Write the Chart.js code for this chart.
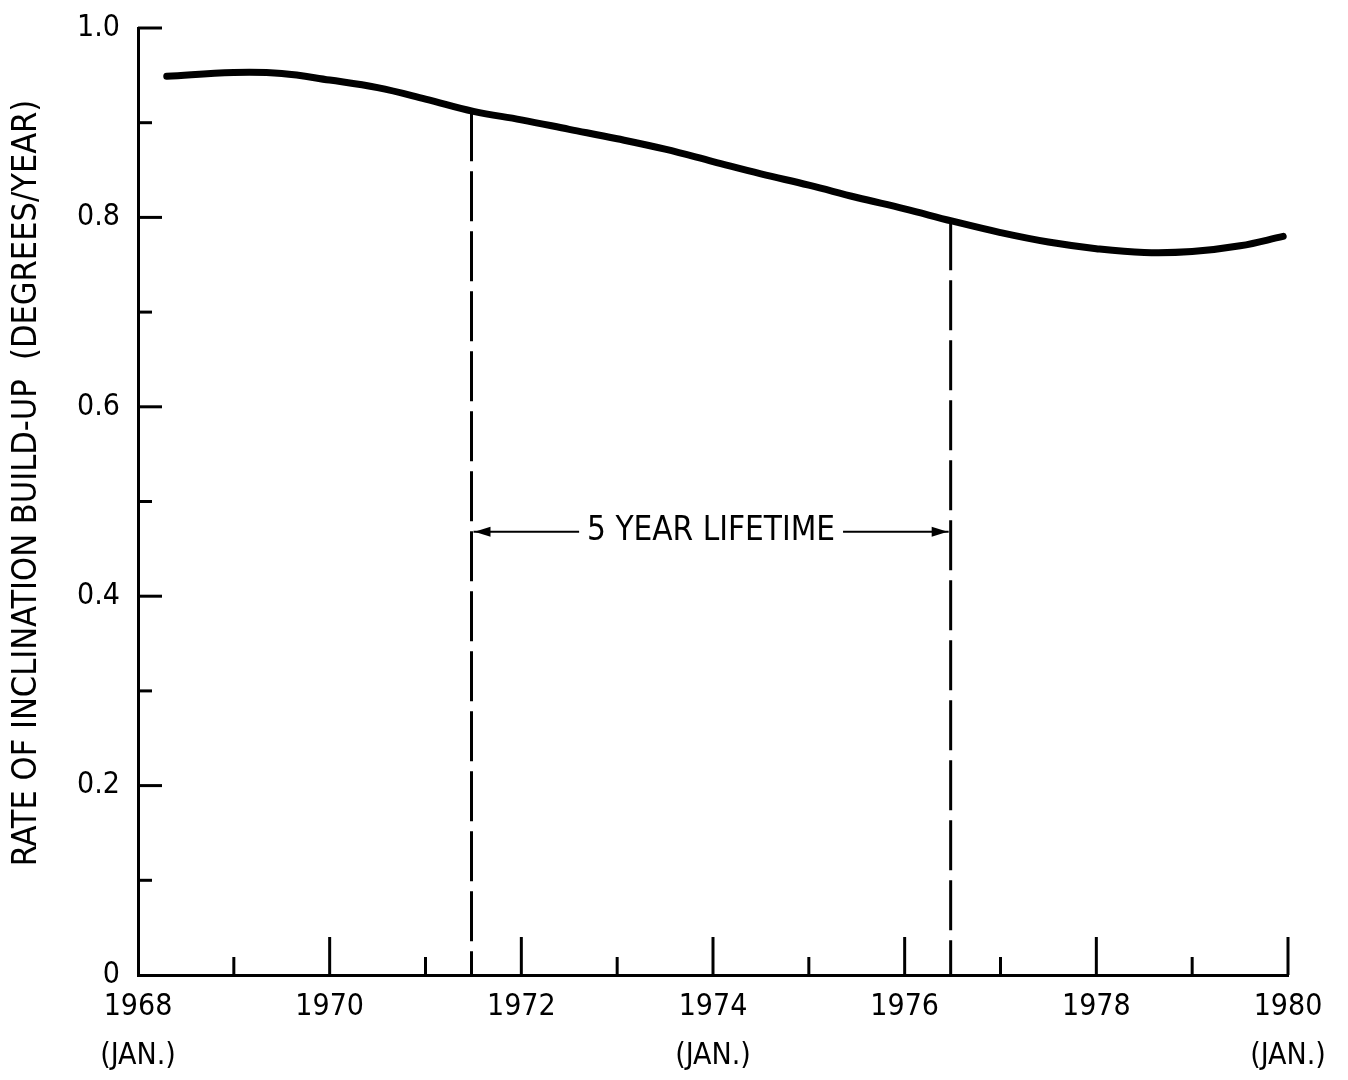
<!DOCTYPE html>
<html>
<head>
<meta charset="utf-8">
<title>Rate of inclination build-up</title>
<script src="https://cdn.jsdelivr.net/npm/chart.js@4/dist/chart.umd.min.js"></script>
<style>
  html, body { margin: 0; padding: 0; background: #fff; }
  #wrap { width: 1348px; height: 1080px; }
</style>
</head>
<body>
<div id="wrap"><canvas id="chart" width="1348" height="1080"></canvas></div>
<script>
// Inclination build-up rate (degrees per year) over the mission period
const years = [1968.3, 1969.0, 1969.5, 1970.0, 1970.5, 1971.0, 1971.5, 1972.0, 1972.5, 1973.0,
               1973.5, 1974.0, 1974.5, 1975.0, 1975.5, 1976.0, 1976.5, 1977.0, 1977.5, 1978.0,
               1978.5, 1979.0, 1979.5, 1979.95];
const rates = [0.949, 0.953, 0.952, 0.945, 0.937, 0.925, 0.912, 0.903, 0.893, 0.883,
               0.872, 0.859, 0.846, 0.834, 0.821, 0.809, 0.796, 0.784, 0.774, 0.767,
               0.763, 0.764, 0.770, 0.780];

// Five-year lifetime window
const lifetimeYears = [1971.48, 1976.48];
const lifetimeRates = [0.912, 0.797];
const lifetimeArrowRate = 0.468;
const lifetimeLabel = '5 YEAR LIFETIME';

// Axis ticks and labels
const xTickYears = [1968, 1969, 1970, 1971, 1972, 1973, 1974, 1975, 1976, 1977, 1978, 1979, 1980];
const xMajorYears = [1968, 1970, 1972, 1974, 1976, 1978, 1980];
const xJanYears = [1968, 1974, 1980];
const yTickValues = [0, 0.1, 0.2, 0.3, 0.4, 0.5, 0.6, 0.7, 0.8, 0.9, 1.0];
const yTickLabels = ['0', '', '0.2', '', '0.4', '', '0.6', '', '0.8', '', '1.0'];
const yAxisTitle = 'RATE OF INCLINATION BUILD-UP  (DEGREES/YEAR)';

const FONT = "'Liberation Sans Narrow', 'DejaVu Sans Condensed', 'Roboto Condensed', sans-serif";
const INK = '#000';

function xLabel(v) {
  if (!xMajorYears.includes(v)) return '';
  return xJanYears.includes(v) ? [String(v), '(JAN.)'] : String(v);
}

// Inward tick marks, lifetime arrow and rotated axis title
const drawingExtras = {
  id: 'drawingExtras',
  afterDraw(chart) {
    const { ctx, chartArea, scales } = chart;
    const xs = scales.x, ys = scales.y;
    ctx.save();
    ctx.strokeStyle = INK;
    ctx.fillStyle = INK;
    ctx.lineCap = 'butt';
    ctx.lineWidth = 3;

    // y ticks point right into the plot
    yTickValues.forEach((v, i) => {
      if (i === 0) return;
      const py = ys.getPixelForValue(v);
      const len = yTickLabels[i] ? 24 : 14;
      ctx.beginPath();
      ctx.moveTo(chartArea.left, py);
      ctx.lineTo(chartArea.left + len, py);
      ctx.stroke();
    });

    // x ticks point up into the plot
    xTickYears.forEach((v, i) => {
      if (i === 0) return;
      const px = xs.getPixelForValue(v);
      const len = xMajorYears.includes(v) ? 38 : 18;
      ctx.beginPath();
      ctx.moveTo(px, chartArea.bottom);
      ctx.lineTo(px, chartArea.bottom - len);
      ctx.stroke();
    });

    // Lifetime span arrow with centred label
    const x0 = xs.getPixelForValue(lifetimeYears[0]);
    const x1 = xs.getPixelForValue(lifetimeYears[1]);
    const ay = ys.getPixelForValue(lifetimeArrowRate);
    ctx.font = '33px ' + FONT;
    ctx.textAlign = 'center';
    ctx.textBaseline = 'middle';
    const mid = (x0 + x1) / 2;
    const tw = ctx.measureText(lifetimeLabel).width;
    ctx.fillText(lifetimeLabel, mid, ay);
    ctx.lineWidth = 2;
    const gap = 8;
    ctx.beginPath();
    ctx.moveTo(x0 + 2, ay);
    ctx.lineTo(mid - tw / 2 - gap, ay);
    ctx.moveTo(mid + tw / 2 + gap, ay);
    ctx.lineTo(x1 - 2, ay);
    ctx.stroke();
    const head = (tipX, dir) => {
      ctx.beginPath();
      ctx.moveTo(tipX, ay);
      ctx.lineTo(tipX - dir * 16, ay - 5);
      ctx.lineTo(tipX - dir * 16, ay + 5);
      ctx.closePath();
      ctx.fill();
    };
    head(x0 + 3, -1);
    head(x1 - 3, 1);

    // Rotated y-axis title
    ctx.save();
    ctx.translate(27, 483);
    ctx.rotate(-Math.PI / 2);
    ctx.font = '34px ' + FONT;
    ctx.textAlign = 'center';
    ctx.textBaseline = 'middle';
    ctx.fillText(yAxisTitle, 0, 0);
    ctx.restore();

    ctx.restore();
  }
};

const lineData = years.map((x, i) => ({ x, y: rates[i] }));
const dashedLine = (i) => ({
  data: [{ x: lifetimeYears[i], y: lifetimeRates[i] }, { x: lifetimeYears[i], y: 0 }],
  borderColor: INK,
  borderWidth: 3,
  borderDash: [50, 10],
  pointRadius: 0,
  tension: 0
});

new Chart(document.getElementById('chart'), {
  type: 'line',
  data: {
    datasets: [
      {
        data: lineData,
        borderColor: INK,
        borderWidth: 7,
        borderCapStyle: 'round',
        borderJoinStyle: 'round',
        pointRadius: 0,
        tension: 0.4
      },
      dashedLine(0),
      dashedLine(1)
    ]
  },
  options: {
    responsive: false,
    animation: false,
    devicePixelRatio: 1,
    layout: { padding: { left: 0, right: 60, top: 28, bottom: 0 } },
    plugins: { legend: { display: false }, tooltip: { enabled: false } },
    scales: {
      x: {
        type: 'linear',
        min: 1968,
        max: 1980,
        afterBuildTicks: (s) => { s.ticks = xTickYears.map(v => ({ value: v })); },
        afterFit: (s) => { s.height = 105; s.paddingLeft = 0; s.paddingRight = 0; },
        grid: { display: false, drawTicks: false },
        border: { display: true, color: INK, width: 3 },
        ticks: {
          autoSkip: false,
          maxRotation: 0,
          padding: 8,
          color: INK,
          font: { family: FONT, size: 30, lineHeight: 1.63 },
          callback: (v) => xLabel(v)
        }
      },
      y: {
        type: 'linear',
        min: 0,
        max: 1,
        afterBuildTicks: (s) => { s.ticks = yTickValues.map(v => ({ value: v })); },
        afterFit: (s) => { s.width = 138; s.paddingTop = 0; s.paddingBottom = 0; },
        grid: { display: false, drawTicks: false },
        border: { display: true, color: INK, width: 3 },
        ticks: {
          autoSkip: false,
          padding: 18,
          color: INK,
          font: { family: FONT, size: 30 },
          callback: (v, i) => yTickLabels[i]
        }
      }
    }
  },
  plugins: [drawingExtras]
});
</script>
</body>
</html>
